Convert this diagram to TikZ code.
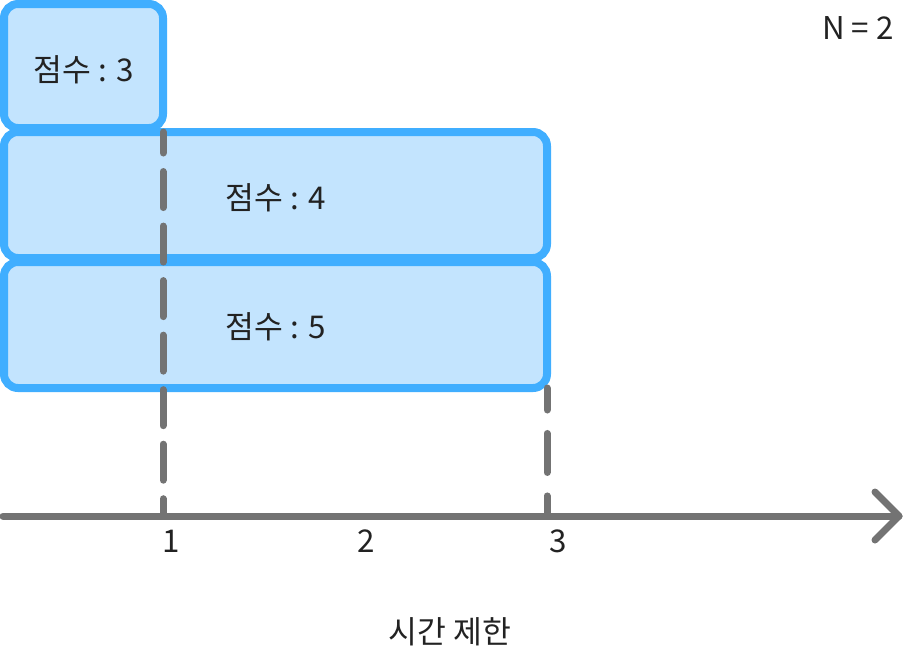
\documentclass[tikz,border=0pt]{standalone}
\usepackage{fontspec}
\setmainfont{Noto Sans CJK KR}
\definecolor{boxfill}{HTML}{C3E4FE}
\definecolor{boxline}{HTML}{40AEFF}
\definecolor{axisgray}{HTML}{737373}
\definecolor{txt}{HTML}{222222}
\begin{document}
\begin{tikzpicture}[x=0.75pt,y=-0.75pt,
  scorebox/.style={draw=boxline,fill=boxfill,line width=6pt,rounded corners=10.5pt,
    inner sep=0pt,outer sep=0pt},
  lbl/.style={inner sep=0pt,font=\fontsize{23.5}{28}\selectfont,text=txt},
  gline/.style={draw=axisgray,line width=5.25pt,line cap=round,line join=round},
  dashA/.style={gline,dash pattern=on 27pt off 13.9pt,dash phase=11.25pt},
  dashB/.style={gline,dash pattern=on 29.25pt off 17.6pt,dash phase=12.75pt}]
\useasboundingbox (0,0) rectangle (904,647);
% boxes
\node[scorebox,minimum width=119.25pt,minimum height=93pt] (b1) at (83.5,66) {};
\node[scorebox,minimum width=407.25pt,minimum height=94.5pt] (b2) at (275.5,195) {};
\node[scorebox,minimum width=407.25pt,minimum height=94.5pt] (b3) at (275.5,325) {};
\node[lbl] (s3) at (84,70) {점수 : 3};
\node[lbl] (s4) at (276,197.5) {점수 : 4};
\node[lbl] (s5) at (276,326.5) {점수 : 5};
% axis
\coordinate (o) at (3,516);
\coordinate (tip) at (899,516);
\coordinate (a1) at (875,492);
\coordinate (a2) at (875,540);
\coordinate (t1) at (163,516);
\coordinate (t3) at (547,516);
\draw[gline] (o) -- (tip);
\draw[gline] (a1) -- (tip) -- (a2);
% dashed guides
\draw[dashA] (b1.east |- b2.north) -- (t1);
\draw[dashB] (b3.south east) -- (t3);
% labels
\node[lbl] (l1) at (171,541) {1};
\node[lbl] (l2) at (366,541) {2};
\node[lbl] (l3) at (558,541) {3};
\node[lbl] (tl) at (450,632) {시간 제한};
\node[lbl] (n) at (858,28) {N = 2};
\end{tikzpicture}
\end{document}
